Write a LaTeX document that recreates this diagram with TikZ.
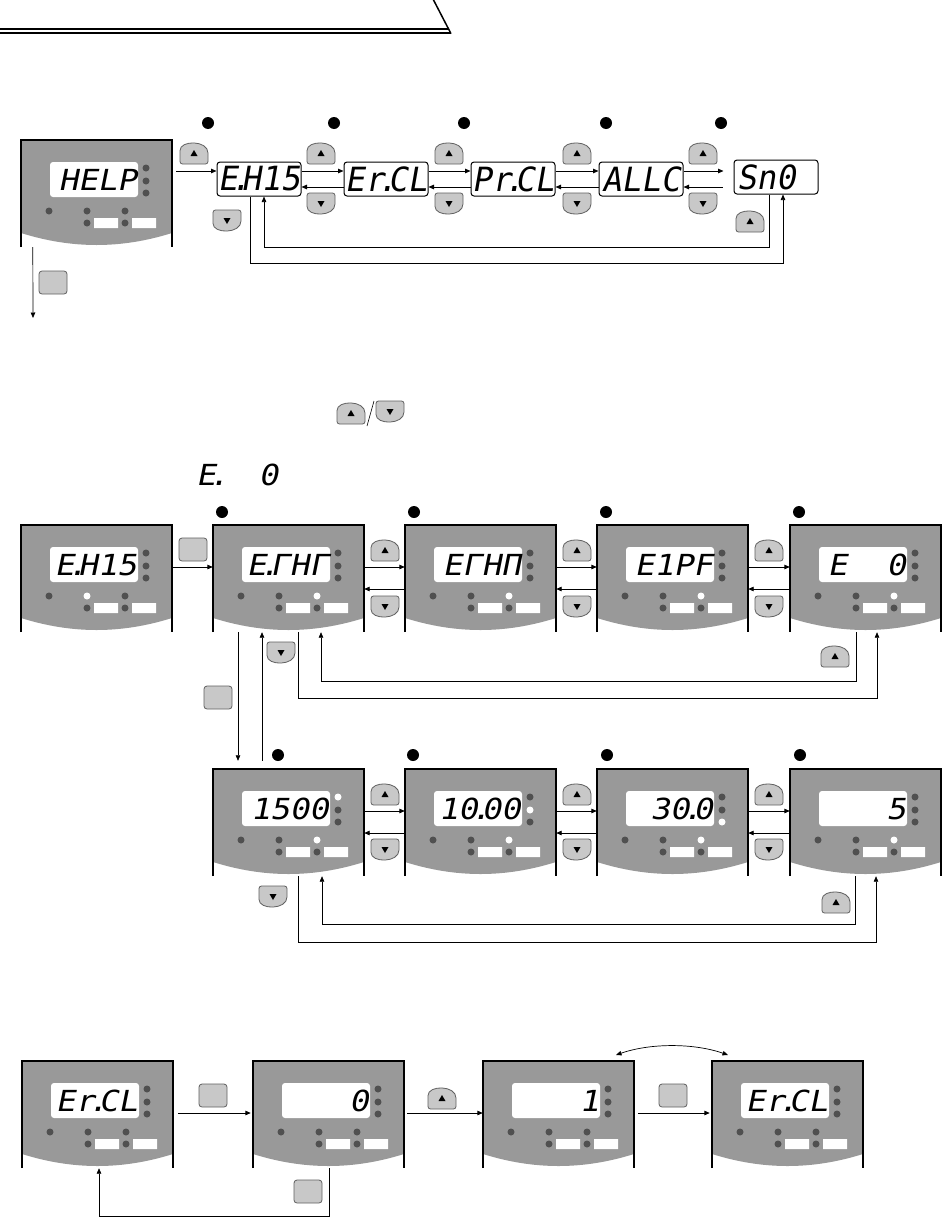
\documentclass[tikz,border=0pt]{standalone}
\usepackage{fontspec}
\usepackage{graphicx}
\usetikzlibrary{arrows.meta,calc}
\newfontfamily\segfont{DejaVu Sans Mono}[FakeSlant=0.2,FakeStretch=1.12]
\newcommand\sd{\kern-0.24em.\kern-0.3em}
\newcommand\tallseg[1]{\scalebox{1}[1.15]{#1}}
\definecolor{panelgray}{HTML}{999999}
\definecolor{leddark}{HTML}{505050}
\definecolor{btnfill}{HTML}{C8C8C8}
\definecolor{btnline}{HTML}{606060}
\tikzset{
  arr/.style={-{Triangle[length=5.5pt,width=4.5pt]},line width=0.9pt},
  arrboth/.style={{Triangle[length=5.5pt,width=4.5pt]}-{Triangle[length=5.5pt,width=4.5pt]},line width=0.9pt},
  btnstyle/.style={fill=btnfill,draw=btnline,line width=0.8pt},
  segtxt/.style={font=\segfont\fontsize{29}{29}\selectfont,inner sep=0pt},
  smallbox/.style={draw,line width=1pt,rounded corners=3pt,fill=white,minimum width=84pt,minimum height=34pt,inner sep=0pt,font=\segfont\fontsize{29}{29}\selectfont},
  pnode/.style={minimum width=151pt,minimum height=107pt,inner sep=0pt,draw=none},
  upbtn/.pic={
    \path[btnstyle] (0,12) .. controls (0,-1) and (28,-1) .. (28,12) [rounded corners=2.5] -- (28,23) -- (0,23) -- cycle;
    \fill (10.5,15) -- (17.5,15) -- (14,9) -- cycle;},
  dnbtn/.pic={
    \path[btnstyle] (0,11) .. controls (0,24) and (28,24) .. (28,11) [rounded corners=2.5] -- (28,0) -- (0,0) -- cycle;
    \fill (10.5,8) -- (17.5,8) -- (14,14) -- cycle;},
  sqbtn/.pic={\path[btnstyle,rounded corners=3] (0,0) rectangle (28,23);}
}
\newcommand\devpanel[9]{%
\begin{scope}[shift={(#2,#3)}]
  \fill[panelgray] (0,0) -- (151,0) -- (151,93) .. controls (100,109) and (51,109) .. (0,93) -- cycle;
  \draw[line width=1.2pt] (0,107) -- (0,0) -- (151,0) -- (151,107);
  \fill[white,rounded corners=3] (29,22) rectangle (117,57);
  \fill[#5] (125,28) circle (3.5);
  \fill[#6] (125,41) circle (3.5);
  \fill[#7] (125,53) circle (3.5);
  \fill[leddark] (28,71) circle (3.5);
  \fill[#8] (66,71) circle (3.5);
  \fill[#9] (104,71) circle (3.5);
  \fill[leddark] (66,83) circle (3.5) (104,83) circle (3.5);
  \fill[white] (73,78) rectangle (97,88) (111,78) rectangle (135,88);
  \node[segtxt,anchor=base east] (#1t) at (116,50) {#4};
\end{scope}
\node[pnode] (#1) at (#2+75.5,#3+53.5) {};
}
\begin{document}
\begin{tikzpicture}[x=1pt,y=-1pt]
\fill[white] (0,0) rectangle (945,1218);
\useasboundingbox (0,0) rectangle (945,1218);

% header rule
\draw[line width=1.5pt] (0,29) -- (448,29);
\draw[line width=1.5pt] (0,33) -- (451,33);
\draw[line width=1.5pt] (433,-1) -- (451,33.7);

% ===== Section 1 =====
\devpanel{pH}{21}{140}{HELP}{leddark}{leddark}{leddark}{leddark}{leddark}
\node[smallbox] (b1) at (259,179) {\tallseg{E\sd H15}};
\node[smallbox] (b2) at (386,179) {\tallseg{Er\sd CL}};
\node[smallbox] (b3) at (513,179) {\tallseg{Pr\sd CL}};
\node[smallbox] (b4) at (641,179) {\tallseg{ALLC}};
\node[smallbox] (b5) at (776,177) {\tallseg{Sn0\phantom{0}}};
\foreach \x in {208,334,464,606,721} \fill (\x,123) circle (6);

\draw[arr] ($(pH.east)+(4,-22.5)$) -- ($(b1.west)+(0,-8)$);
\draw[arr] ($(b1.east)+(0,-8)$) -- ($(b2.west)+(0,-8)$);
\draw[arr] ($(b2.west)+(0,8)$) -- ($(b1.east)+(0,8)$);
\draw[arr] ($(b2.east)+(0,-8)$) -- ($(b3.west)+(0,-8)$);
\draw[arr] ($(b3.west)+(0,8)$) -- ($(b2.east)+(0,8)$);
\draw[arr] ($(b3.east)+(0,-8)$) -- ($(b4.west)+(0,-8)$);
\draw[arr] ($(b4.west)+(0,8)$) -- ($(b3.east)+(0,8)$);
\draw[arr] ($(b4.east)+(0,-8)$) -- ($(b5.west)+(-10,-6)$);
\draw[arr] ($(b5.west)+(-11,10)$) -- ($(b4.east)+(0,8)$);
\draw[arr,line width=0.7pt] ($(b1.south)+(-9,0)$) -- ++(0,67) -| ($(b5.south)+(7,0)$);
\draw[arr,line width=0.7pt] ($(b5.south)+(-7,0)$) -- ++(0,53) -| ($(b1.south)+(5,0)$);

\pic at (180,141) {upbtn};
\pic at (213,210) {dnbtn};
\foreach \x in {307,435,563,689} {\pic at (\x,141) {upbtn}; \pic at (\x,193) {dnbtn};}
\pic at (736,209) {upbtn};

\coordinate (hEnd) at (33,318);
\draw[arr,line width=0.7pt] ($(pH.south west)+(12,0)$) -- (hEnd);
\pic at (39,271) {sqbtn};

% ===== middle text line =====
\pic at (337,401) {upbtn};
\draw[line width=0.6pt] (367,426) -- (374,401);
\pic at (376,401) {dnbtn};
\node[segtxt,anchor=base west] (hdr) at (196,485) {E\sd\phantom{00}0};

% ===== Section 2, row A =====
\devpanel{r1}{21}{525}{E\sd H15}{leddark}{leddark}{leddark}{white}{leddark}
\devpanel{r2}{213}{525}{E\sd ΓHΓ}{leddark}{leddark}{leddark}{leddark}{white}
\devpanel{r3}{405}{525}{EΓHΠ}{leddark}{leddark}{leddark}{leddark}{white}
\devpanel{r4}{597}{525}{E1PF}{leddark}{leddark}{leddark}{leddark}{white}
\devpanel{r5}{790}{525}{E\phantom{00}0}{leddark}{leddark}{leddark}{leddark}{white}
\foreach \x in {222,414,606,799} \fill (\x,512) circle (6);

\draw[arr] ($(r1.east)+(0,-11.5)$) -- ($(r2.west)+(0,-11.5)$);
\pic at (179,538) {sqbtn};
\foreach \a/\b in {r2/r3,r3/r4,r4/r5} {
  \draw[arr] ($(\a.east)+(0,-11.5)$) -- ($(\b.west)+(0,-11.5)$);
  \draw[arr] ($(\b.west)+(0,10.5)$) -- ($(\a.east)+(0,10.5)$);
}
\foreach \x in {371,563,755} {\pic at (\x,538) {upbtn}; \pic at (\x,596) {dnbtn};}
\draw[arr,line width=0.7pt] ($(r2.south)+(9.5,0)$) -- ++(0,66) -| ($(r5.south)+(11.5,0)$);
\draw[arr,line width=0.7pt] ($(r5.south)+(-9.5,0)$) -- ++(0,49) -| ($(r2.south)+(32.5,0)$);
\pic at (821,644) {upbtn};
\pic at (267,642) {dnbtn};

% ===== Section 2, row B =====
\devpanel{s1}{213}{769}{1500}{white}{leddark}{leddark}{leddark}{white}
\devpanel{s2}{405}{769}{10\sd 00}{leddark}{white}{leddark}{leddark}{white}
\devpanel{s3}{597}{769}{30\sd 0}{leddark}{leddark}{white}{leddark}{white}
\devpanel{s4}{790}{769}{5}{leddark}{leddark}{leddark}{leddark}{white}
\foreach \x in {278,413,607,800} \fill (\x,755) circle (6);

\draw[arr,line width=0.7pt] ($(r2.south)+(-50.5,0)$) -- ($(s1.north)+(-50.5,-8)$);
\draw[arr,line width=0.7pt] ($(s1.north)+(-26.5,-8)$) -- ($(r2.south)+(-26.5,0)$);
\pic at (204,686) {sqbtn};

\foreach \a/\b in {s1/s2,s2/s3,s3/s4} {
  \draw[arr] ($(\a.east)+(0,-11.5)$) -- ($(\b.west)+(0,-11.5)$);
  \draw[arr] ($(\b.west)+(0,10.5)$) -- ($(\a.east)+(0,10.5)$);
}
\foreach \x in {371,563,755} {\pic at (\x,782) {upbtn}; \pic at (\x,839) {dnbtn};}
\draw[arr,line width=0.7pt] ($(s1.south)+(9.5,0)$) -- ++(0,66) -| ($(s4.south)+(10.5,0)$);
\draw[arr,line width=0.7pt] ($(s4.south)+(-10.5,0)$) -- ++(0,48) -| ($(s1.south)+(33.5,0)$);
\pic at (259,886) {dnbtn};
\pic at (822,890) {upbtn};

% ===== Section 3 =====
\devpanel{t1}{22}{1061}{Er\sd CL}{leddark}{leddark}{leddark}{leddark}{leddark}
\devpanel{t2}{253}{1061}{0}{leddark}{leddark}{leddark}{leddark}{leddark}
\devpanel{t3}{483}{1061}{1}{leddark}{leddark}{leddark}{leddark}{leddark}
\devpanel{t4}{712}{1061}{Er\sd CL}{leddark}{leddark}{leddark}{leddark}{leddark}

\draw[arr] ($(t1.east)+(5,-1.5)$) -- ($(t2.west)+(-2,-1.5)$);
\draw[arr] ($(t2.east)+(3,-1.5)$) -- ($(t3.west)+(0,-1.5)$);
\draw[arr] ($(t3.east)+(4,-1.5)$) -- ($(t4.west)+(-2,-1.5)$);
\pic at (199,1084) {sqbtn};
\pic at (428,1086) {upbtn};
\pic at (659,1084) {sqbtn};
\draw[arr,line width=0.7pt] ($(t2.south)+(0.5,0)$) -- ++(0,48) -| ($(t1.south)+(1.5,0)$);
\pic at (294,1180) {sqbtn};

\coordinate (arcL) at (616,1055);
\coordinate (arcR) at (728,1055);
\draw[arrboth,line width=0.7pt] (arcL) .. controls (650,1043) and (694,1043) .. (arcR);
\end{tikzpicture}
\end{document}
